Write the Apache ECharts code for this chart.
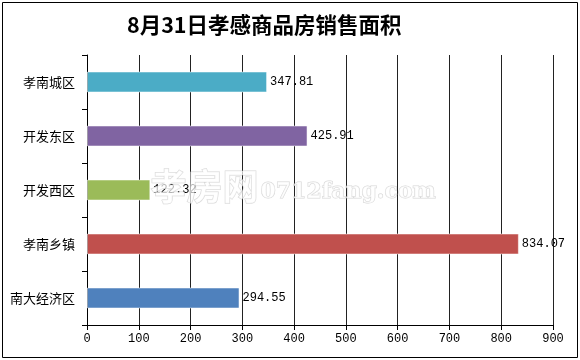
<!DOCTYPE html>
<html><head><meta charset="utf-8">
<script src="https://cdn.jsdelivr.net/npm/echarts@6/dist/echarts.min.js"></script>
<style>html,body{margin:0;padding:0;background:#fff}#c{width:580px;height:360px}</style>
</head><body><div id="c"></div>
<script>
var categories = ['孝南城区', '开发东区', '开发西区', '孝南乡镇', '南大经济区'];
var values = [347.81, 425.91, 122.32, 834.07, 294.55];
var barColors = ['#4bacc6', '#8064a2', '#9bbb59', '#c0504d', '#4f81bd'];
var titleText = '8月31日孝感商品房销售面积';
var watermarkCn = '孝房网';
var watermarkEn = '0712fang.com';

var chart = echarts.init(document.getElementById('c'));
chart.setOption({
  backgroundColor: '#fff',
  animation: false,
  title: {
    text: titleText, left: 122, top: 9,
    textStyle: {fontFamily: 'Noto Sans CJK SC', fontSize: 21.5, fontWeight: 'bold', color: '#000'}
  },
  graphic: [
    {type: 'rect', shape: {x: 2.5, y: 2.5, width: 575, height: 355}, style: {fill: 'none', stroke: '#000', lineWidth: 1}, z: 100},
    {type: 'text', left: 150, top: 168, z: 50, style: {text: watermarkCn, fontFamily: 'Noto Sans CJK SC', fontSize: 36, fontWeight: 'bold', fill: 'rgba(255,255,255,0.7)', stroke: 'rgba(185,185,185,0.6)', lineWidth: 1}},
    {type: 'text', left: 260, top: 181, z: 50, style: {text: watermarkEn, fontFamily: 'DejaVu Serif', fontSize: 22, fontWeight: 'bold', fill: 'rgba(255,255,255,0.7)', stroke: 'rgba(185,185,185,0.6)', lineWidth: 1}}
  ],
  grid: {left: 87, right: 27, top: 55, bottom: 35, containLabel: false},
  xAxis: {
    type: 'value', min: 0, max: 900, interval: 100,
    axisLine: {show: true, lineStyle: {color: '#000', width: 1}},
    axisTick: {show: true, length: 5, lineStyle: {color: '#000'}},
    axisLabel: {color: '#000', fontFamily: 'Liberation Mono', fontSize: 12, margin: 8},
    splitLine: {show: true, lineStyle: {color: '#222', width: 1}}
  },
  yAxis: {
    type: 'category', data: categories, inverse: true,
    axisLine: {show: true, lineStyle: {color: '#000', width: 1}},
    axisTick: {show: true, length: 5, lineStyle: {color: '#000'}},
    axisLabel: {color: '#000', fontFamily: 'Noto Sans CJK SC', fontSize: 13, margin: 12}
  },
  series: [{
    type: 'bar',
    barWidth: 21,
    data: values.map(function(v, i){ return {value: v, itemStyle: {color: barColors[i], borderColor: 'rgba(255,255,255,0.5)', borderWidth: 1}}; }),
    label: {show: true, position: 'right', distance: 3, color: '#000', fontFamily: 'Liberation Mono', fontSize: 12,
      formatter: function(p){ return p.value.toFixed(2); }}
  }]
});
</script></body></html>
